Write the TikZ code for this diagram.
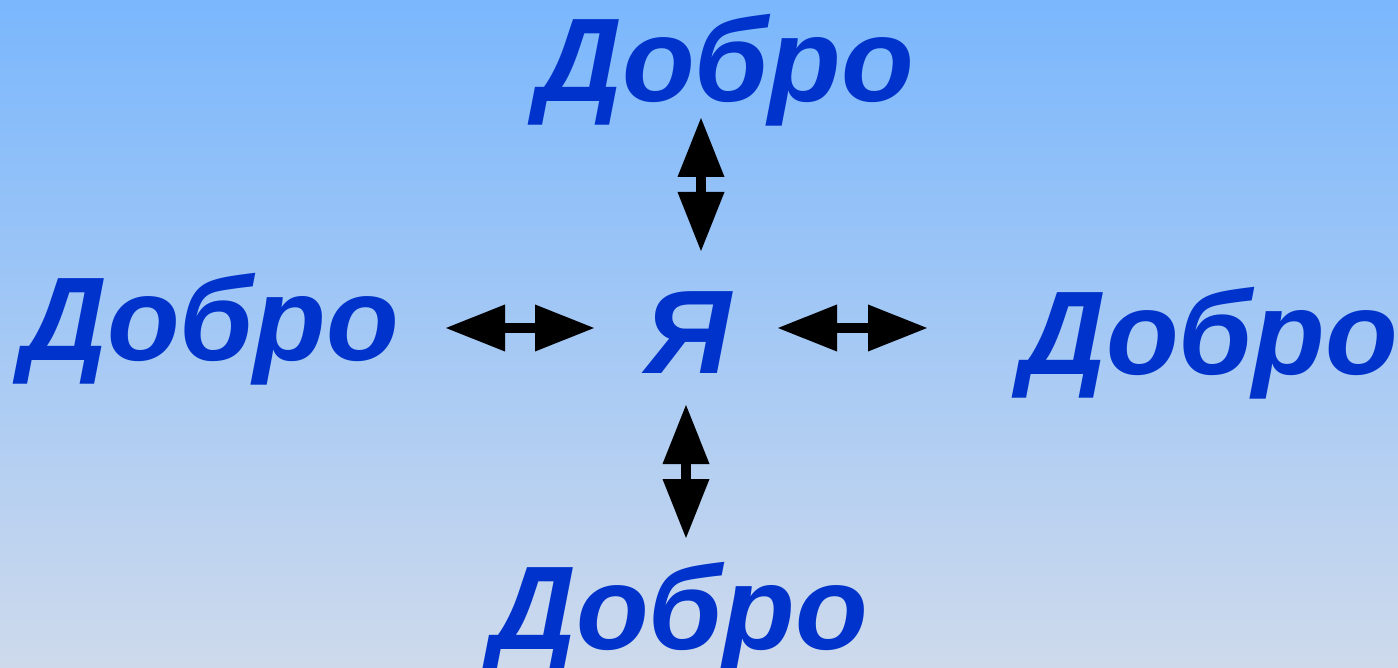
\documentclass[tikz,border=0pt]{standalone}
\usepackage{fontspec}
\setmainfont{Liberation Sans}
\usepackage{tikz}
\usetikzlibrary{arrows.meta, positioning}

\definecolor{skytop}{RGB}{122,183,253}
\definecolor{skymid}{RGB}{158,200,246}
\definecolor{skybot}{RGB}{206,218,236}
\definecolor{wordblue}{RGB}{0,51,204}

\begin{document}
\begin{tikzpicture}[
  x=0.5pt, y=-0.5pt,
  word/.style={inner sep=0pt, anchor=base, text=wordblue,
               font=\fontsize{59.5pt}{60pt}\selectfont\bfseries\itshape},
  dblarrow/.style={line width=5pt, draw=black,
                   {Triangle[length=30pt, width=22pt]}-{Triangle[length=30pt, width=22pt]}}
]

\shade[top color=skytop, middle color=skymid, bottom color=skybot]
  (0,0) rectangle (1398,668);
\useasboundingbox (0,0) rectangle (1398,668);

\node[word] (me)     at (688,373)  {Я};
\node[word] (top)    at (725,102)  {Добро};
\node[word] (left)   at (210,360)  {Добро};
\node[word] (right)  at (1209,374) {Добро};
\node[word] (bottom) at (679,649)  {Добро};

\coordinate (topA) at (701,117);  \coordinate (topB) at (701,252);
\coordinate (botA) at (686,404);  \coordinate (botB) at (686,539);
\coordinate (lftA) at (445,328);  \coordinate (lftB) at (595,328);
\coordinate (rgtA) at (777,328);  \coordinate (rgtB) at (928,328);

\draw[dblarrow] (topA) -- (topB);
\draw[dblarrow] (botA) -- (botB);
\draw[dblarrow] (lftA) -- (lftB);
\draw[dblarrow] (rgtA) -- (rgtB);

\end{tikzpicture}
\end{document}
